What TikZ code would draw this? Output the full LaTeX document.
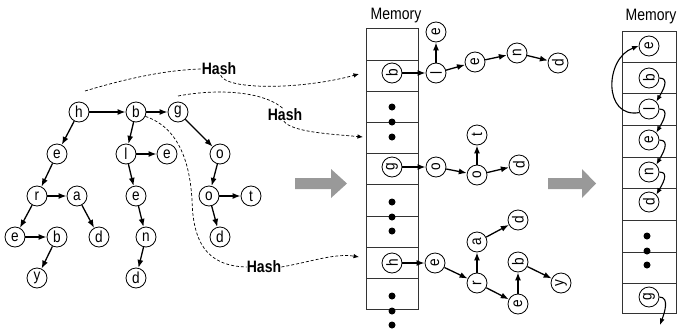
\documentclass[tikz,border=0pt]{standalone}
\usepackage{fontspec}
\setmainfont{Liberation Sans}[FakeStretch=0.85]
\usetikzlibrary{arrows.meta}

\tikzset{
  letter/.style={draw, circle, fill=white, minimum size=20pt, inner sep=0pt, line width=0.8pt, font=\fontsize{16}{16}\selectfont},
  link/.style={line width=1.3pt, -{Latex[length=8pt,width=6pt]}},
  hop/.style={line width=1.1pt, -{Latex[length=6.5pt,width=5pt]}},
  hashline/.style={line width=0.7pt, dash pattern=on 3pt off 2pt},
  hashto/.style={hashline, -{Latex[length=5.5pt,width=4.5pt]}},
  hashtext/.style={font=\fontsize{16.5}{16.5}\selectfont\bfseries, inner sep=0pt},
  memtext/.style={font=\fontsize{16.5}{16.5}\selectfont, anchor=base, inner sep=0pt},
  cell/.style={line width=0.8pt, draw=black!80},
  blob/.style={circle, fill=black, inner sep=0pt, minimum size=7pt},
  bigarrow/.style={fill=black!40},
}
\newcommand{\vletter}[1]{\rotatebox{90}{#1}}

\begin{document}
\begin{tikzpicture}[x=1pt, y=-1pt]
\useasboundingbox (0,0) rectangle (677,335);

% 左边的树
\node[letter] (h) at (79,112) {h};
\node[letter] (b) at (136,112) {b};
\node[letter] (g) at (178,112) {g};
\node[letter] (e1) at (57,154) {e};
\node[letter] (l) at (126,154) {l};
\node[letter] (e2) at (167,154) {e};
\node[letter] (o1) at (220,154) {o};
\node[letter] (r) at (37,196) {r};
\node[letter] (a) at (77,196) {a};
\node[letter] (e3) at (136,196) {e};
\node[letter] (o2) at (209,196) {o};
\node[letter] (t) at (251,196) {t};
\node[letter] (e4) at (15,237) {e};
\node[letter] (b2) at (57,237) {b};
\node[letter] (d1) at (99,237) {d};
\node[letter] (n) at (146,237) {n};
\node[letter] (d2) at (220,237) {d};
\node[letter] (y) at (37,278) {y};
\node[letter] (d3) at (136,278) {d};

\draw[link] (h) -- (b);
\draw[link] (b) -- (g);
\draw[link] (h) -- (e1);
\draw[link] (e1) -- (r);
\draw[link] (r) -- (a);
\draw[link] (r) -- (e4);
\draw[link] (e4) -- (b2);
\draw[link] (b2) -- (y);
\draw[link] (a) -- (d1);
\draw[link] (b) -- (l);
\draw[link] (l) -- (e2);
\draw[link] (l) -- (e3);
\draw[link] (e3) -- (n);
\draw[link] (n) -- (d3);
\draw[link] (g) -- (o1);
\draw[link] (o1) -- (o2);
\draw[link] (o2) -- (t);
\draw[link] (o2) -- (d2);

% Hash 虚线
\node[hashtext] (hash1) at (219,69) {Hash};
\node[hashtext] (hash2) at (285,115) {Hash};
\node[hashtext] (hash3) at (264,267) {Hash};
\coordinate (s1) at (85,91);
\coordinate (s2) at (178,96);
\coordinate (t1) at (359,74);
\coordinate (t2) at (363,137);
\coordinate (t3) at (359,257);

\draw[hashline] (s1) .. controls (115,82) and (160,70) .. (hash1.west);
\draw[hashto] (hash1.-75) .. controls (226,90) and (300,90) .. (t1);
\draw[hashline] (s2) .. controls (220,88) and (265,92) .. (hash2.105);
\draw[hashto] (hash2.-100) .. controls (292,132) and (330,134) .. (t2);
\draw[hashline] (b.-25) .. controls (180,128) and (190,165) .. (192,200)
  .. controls (193,240) and (205,266) .. (hash3.west);
\draw[hashto] (hash3.east) .. controls (310,262) and (335,253) .. (t3);

% 中间的内存
\node[memtext] (mem1) at (396,19) {Memory};
\draw[cell] (366,28) rectangle (418,309);
\foreach \yy in {60,91,122,153,184,216,247,278}
  \draw[cell] (366,\yy) -- (418,\yy);
\foreach \yy [count=\i] in {107,122,137,202,217,231,296,311,325}
  \node[blob] (mdot\i) at (392,\yy) {};

\node[letter] (mb) at (392,73) {\vletter{b}};
\node[letter] (ml) at (436,73) {\vletter{l}};
\node[letter] (me1) at (436,32) {\vletter{e}};
\node[letter] (me2) at (475,62) {\vletter{e}};
\node[letter] (mn) at (517,53) {\vletter{n}};
\node[letter] (md1) at (558,63) {\vletter{d}};
\node[letter] (mg) at (392,167) {\vletter{g}};
\node[letter] (mo1) at (436,167) {\vletter{o}};
\node[letter] (mo2) at (477,175) {\vletter{o}};
\node[letter] (mt) at (477,135) {\vletter{t}};
\node[letter] (md2) at (519,165) {\vletter{d}};
\node[letter] (mh) at (392,263) {\vletter{h}};
\node[letter] (me3) at (435,263) {\vletter{e}};
\node[letter] (mr) at (477,283) {\vletter{r}};
\node[letter] (ma) at (477,242) {\vletter{a}};
\node[letter] (md3) at (518,220) {\vletter{d}};
\node[letter] (me4) at (518,304) {\vletter{e}};
\node[letter] (mb2) at (518,262) {\vletter{b}};
\node[letter] (my) at (561,283) {\vletter{y}};

\draw[link] (mb) -- (ml);
\draw[link] (ml) -- (me1);
\draw[link] (ml) -- (me2);
\draw[link] (me2) -- (mn);
\draw[link] (mn) -- (md1);
\draw[link] (mg) -- (mo1);
\draw[link] (mo1) -- (mo2);
\draw[link] (mo2) -- (mt);
\draw[link] (mo2) -- (md2);
\draw[link] (mh) -- (me3);
\draw[link] (me3) -- (mr);
\draw[link] (mr) -- (ma);
\draw[link] (ma) -- (md3);
\draw[link] (mr) -- (me4);
\draw[link] (me4) -- (mb2);
\draw[link] (mb2) -- (my);

% 灰色大箭头
\fill[bigarrow] (295,178) -- (331,178) -- (331,169) -- (347,183.5) -- (331,198) -- (331,189) -- (295,189) -- cycle;
\fill[bigarrow] (548,178) -- (582,178) -- (582,169) -- (596,183.5) -- (582,198) -- (582,189) -- (548,189) -- cycle;

% 右边的内存
\node[memtext] (mem2) at (651,20) {Memory};
\draw[cell] (622,31) rectangle (676.5,313);
\foreach \yy in {62,93,125,157,188,220,252,283}
  \draw[cell] (622,\yy) -- (676.5,\yy);
\foreach \yy [count=\i] in {236,251,265}
  \node[blob] (rdot\i) at (647,\yy) {};

\node[letter] (re1) at (649,46) {\vletter{e}};
\node[letter] (rb) at (649,78) {\vletter{b}};
\node[letter] (rl) at (649,109) {\vletter{l}};
\node[letter] (re2) at (649,140) {\vletter{e}};
\node[letter] (rn) at (649,172) {\vletter{n}};
\node[letter] (rd) at (649,202) {\vletter{d}};
\node[letter] (rg) at (649,297) {\vletter{g}};
\coordinate (rout) at (660,325);

\draw[hop] (rb.east) to[out=0, in=60, looseness=1.2] (rl.north east);
\draw[hop] (rl.east) to[out=0, in=60, looseness=1.2] (re2.north east);
\draw[hop] (re2.east) to[out=0, in=60, looseness=1.2] (rn.north east);
\draw[hop] (rn.east) to[out=0, in=60, looseness=1.2] (rd.north east);
\draw[hop] (rl.200) to[out=190, in=200, looseness=1.4] (re1.west);
\draw[hop] (rg.east) to[out=0, in=70] (rout);

\end{tikzpicture}
\end{document}
